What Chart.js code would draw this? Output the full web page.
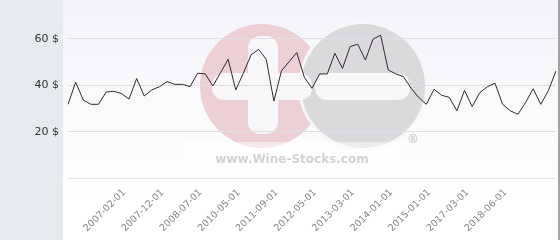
<!DOCTYPE html>
<html>
<head>
<meta charset="utf-8">
<script src="https://cdn.jsdelivr.net/npm/chart.js@4"></script>
<style>
  html, body { margin: 0; padding: 0; background: #fff; }
  #wrap { width: 560px; height: 240px; }
</style>
</head>
<body>
<div id="wrap"><canvas id="priceChart" width="560" height="240"></canvas></div>
<script>
// price per bottle, one value per quote
const prices = [
  31.8, 41.3, 33.7, 31.8, 31.8, 37.1, 37.4, 36.5, 34, 42.9,
  35.4, 38, 39.4, 41.6, 40.4, 40.4, 39.4, 45.2, 44.9, 39.7,
  45.4, 51.2, 38, 45.2, 53.1, 55.5, 51.2, 33.2, 46.3, 50.2,
  54.1, 43.4, 38.7, 44.9, 44.9, 53.8, 47.3, 56.7, 57.7, 50.9,
  59.9, 61.6, 46.6, 44.9, 43.7, 38.7, 34.7, 31.8, 38.3, 35.7,
  34.8, 29, 37.8, 30.8, 36.8, 39.4, 40.9, 31.8, 29, 27.5,
  32.5, 38.5, 31.8, 37.7, 46.2,
];

// dates shown on the x axis and the quote they sit under
const tickIndex = [7, 12, 17, 22, 27, 32, 37, 42, 47, 52, 57];
const tickDates = [
  "2007-02-01",
  "2007-12-01",
  "2008-07-01",
  "2010-05-01",
  "2011-09-01",
  "2012-05-01",
  "2013-03-01",
  "2014-01-01",
  "2015-01-01",
  "2017-03-01",
  "2018-06-01",
];

const yTicks = [0, 20, 40, 60];

const labels = prices.map((_, i) => {
  const k = tickIndex.indexOf(i);
  return k >= 0 ? tickDates[k] : "";
});

const background = {
  id: "background",
  beforeDraw: function (chart) {
    const ctx = chart.ctx;
    ctx.save();
    // left panel
    ctx.fillStyle = "#e8ebee";
    ctx.fillRect(0, 0, 63, chart.height);
    // plot panel
    const grad = ctx.createLinearGradient(0, 0, 0, 200);
    grad.addColorStop(0, "#f3f4f8");
    grad.addColorStop(1, "#ffffff");
    ctx.fillStyle = grad;
    ctx.fillRect(63, 0, 495, chart.height);
    // right border
    ctx.fillStyle = "#a3a3a3";
    ctx.fillRect(558, 0, 2, chart.height);

    // watermark logo
    ctx.fillStyle = "#ecd0d6";
    ctx.beginPath();
    ctx.arc(262, 86, 62, 0, Math.PI * 2);
    ctx.fill();
    ctx.fillStyle = "#f7f7f9";
    ctx.beginPath();
    ctx.arc(363, 86, 65, 0, Math.PI * 2);
    ctx.fill();
    ctx.fillStyle = "#dadadc";
    ctx.beginPath();
    ctx.arc(363, 86, 62, 0, Math.PI * 2);
    ctx.fill();

    ctx.fillStyle = "#f8f8fa";
    const round = (x, y, w, h, r) => {
      ctx.beginPath();
      ctx.roundRect(x, y, w, h, r);
      ctx.fill();
    };
    round(248, 36, 30, 98, 12);
    round(212, 73, 100, 27, 12);
    round(315, 73, 95, 27, 12);

    ctx.fillStyle = "rgba(255,255,255,0.5)";
    ctx.fillRect(183, 142, 215, 32);
    ctx.fillStyle = "#d2d2d4";
    ctx.font = "bold 12px 'DejaVu Sans'";
    ctx.textAlign = "center";
    ctx.textBaseline = "middle";
    ctx.fillText("www.Wine-Stocks.com", 292, 160);
    ctx.fillText("\u00AE", 413, 140);
    ctx.restore();
  },
};

const ctx = document.getElementById("priceChart").getContext("2d");
new Chart(ctx, {
  type: "line",
  data: {
    labels: labels,
    datasets: [
      {
        data: prices,
        borderColor: "#3a2631",
        borderWidth: 1,
        pointRadius: 0,
        tension: 0,
        fill: false,
      },
    ],
  },
  options: {
    responsive: false,
    animation: false,
    layout: {
      padding: { top: 0, right: 4, left: 0, bottom: 0 },
    },
    plugins: {
      legend: { display: false },
      tooltip: { enabled: false },
    },
    scales: {
      x: {
        offset: false,
        grid: { display: false },
        border: { display: false },
        afterFit: function (scale) {
          scale.height = 62;
          scale.paddingLeft = 0;
          scale.paddingRight = 0;
        },
        ticks: {
          autoSkip: false,
          minRotation: 45,
          maxRotation: 45,
          padding: 1,
          labelOffset: 3,
          color: "#858585",
          font: { family: "DejaVu Sans", size: 9.5 },
        },
      },
      y: {
        min: 0,
        max: 76.8,
        afterFit: function (scale) {
          scale.width = 68;
          scale.paddingTop = 0;
          scale.paddingBottom = 0;
        },
        afterBuildTicks: function (scale) {
          scale.ticks = yTicks.map((v) => ({ value: v }));
        },
        grid: {
          color: "#e0e0e4",
          drawTicks: false,
        },
        border: { display: false },
        ticks: {
          padding: 9,
          color: "#333333",
          font: { family: "DejaVu Sans", size: 11 },
          callback: function (value) {
            return value === 0 ? "" : value + " $";
          },
        },
      },
    },
  },
  plugins: [background],
});
</script>
</body>
</html>
